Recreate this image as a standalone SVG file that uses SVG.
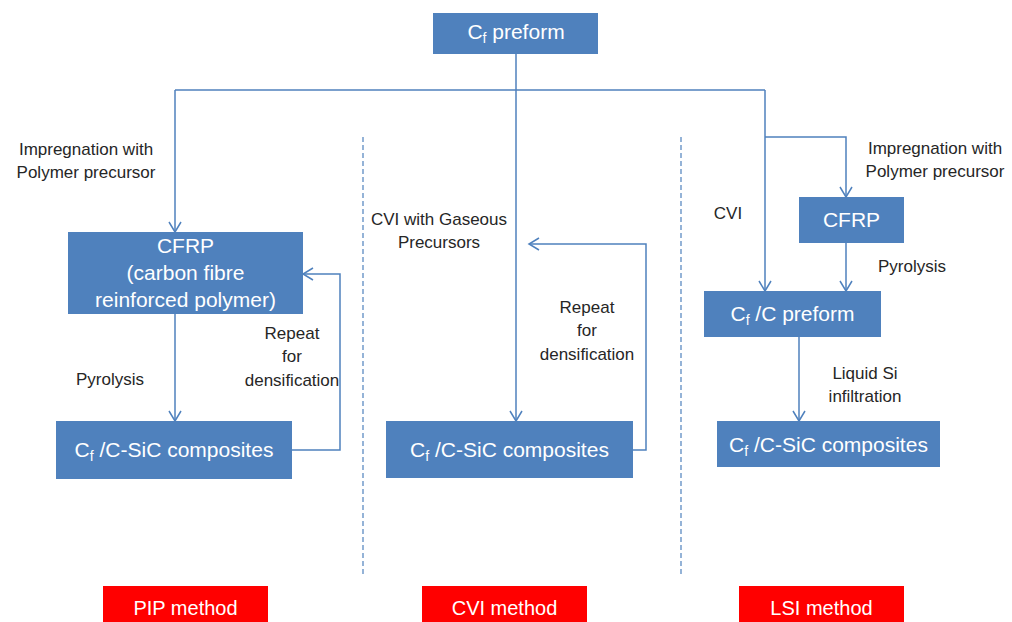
<svg xmlns="http://www.w3.org/2000/svg" width="1012" height="622" viewBox="0 0 1012 622">
<style>
.box{fill:#4f81bd}
.red{fill:#ff0000}
.bt{font-family:"Liberation Sans",Arial,sans-serif;font-size:21px;fill:#ffffff;text-anchor:middle}
.rt{font-family:"Liberation Sans",Arial,sans-serif;font-size:20px;fill:#ffffff;text-anchor:middle}
.lb{font-family:"Liberation Sans",Arial,sans-serif;font-size:17px;fill:#262626;text-anchor:middle}
.ln{fill:none;stroke:#4f81bd;stroke-width:1.5}
.dash{fill:none;stroke:#4f81bd;stroke-width:1.2;stroke-dasharray:5 3}
.sub{font-size:14px}
</style>
<defs>
<marker id="arr" markerUnits="userSpaceOnUse" markerWidth="14" markerHeight="14" refX="11" refY="6.5" orient="auto">
<path d="M1,0.5 L11,6.5 L1,12.5" fill="none" stroke="#4f81bd" stroke-width="1.5"/>
</marker>
</defs>
<rect width="1012" height="622" fill="#ffffff"/>

<g id="connectors">
<path class="ln" d="M516,54 V421" marker-end="url(#arr)"/>
<path class="ln" d="M175,90 H765"/>
<path class="ln" d="M175,90 V232" marker-end="url(#arr)"/>
<path class="ln" d="M765,90 V291" marker-end="url(#arr)"/>
<path class="ln" d="M765,137 H846 V197" marker-end="url(#arr)"/>
<path class="ln" d="M175,314 V421" marker-end="url(#arr)"/>
<path class="ln" d="M292,450 H340 V274 H303" marker-end="url(#arr)"/>
<path class="ln" d="M633,450 H646 V244 H529" marker-end="url(#arr)"/>
<path class="ln" d="M846,243 V291" marker-end="url(#arr)"/>
<path class="ln" d="M799,337 V421" marker-end="url(#arr)"/>
<path class="dash" d="M363,137 V576"/>
<path class="dash" d="M681,137 V576"/>
</g>

<g id="labels">
<text class="lb" x="86" y="155">Impregnation with</text>
<text class="lb" x="86" y="178">Polymer precursor</text>
<text class="lb" x="110" y="385">Pyrolysis</text>
<text class="lb" x="292" y="339">Repeat</text>
<text class="lb" x="292" y="362">for</text>
<text class="lb" x="292" y="386">densification</text>
<text class="lb" x="439" y="225">CVI with Gaseous</text>
<text class="lb" x="439" y="248">Precursors</text>
<text class="lb" x="587" y="313">Repeat</text>
<text class="lb" x="587" y="336">for</text>
<text class="lb" x="587" y="360">densification</text>
<text class="lb" x="728" y="219">CVI</text>
<text class="lb" x="935" y="154">Impregnation with</text>
<text class="lb" x="935" y="177">Polymer precursor</text>
<text class="lb" x="912" y="272">Pyrolysis</text>
<text class="lb" x="865" y="379">Liquid Si</text>
<text class="lb" x="865" y="402">infiltration</text>
</g>

<g id="cf-preform">
<rect class="box" x="433" y="13" width="165" height="41"/>
<text class="bt" x="516" y="39">C<tspan class="sub" dy="4">f</tspan><tspan dy="-4"> preform</tspan></text>
</g>

<g id="pip-cfrp">
<rect class="box" x="68" y="232" width="235" height="82"/>
<text class="bt" x="185.5" y="253">CFRP</text>
<text class="bt" x="185.5" y="280">(carbon fibre</text>
<text class="bt" x="185.5" y="307">reinforced polymer)</text>
</g>

<g id="pip-composites">
<rect class="box" x="56" y="421" width="236" height="58"/>
<text class="bt" x="174" y="457">C<tspan class="sub" dy="4">f</tspan><tspan dy="-4"> /C-SiC composites</tspan></text>
</g>

<g id="cvi-composites">
<rect class="box" x="386" y="421" width="247" height="57"/>
<text class="bt" x="509.5" y="457">C<tspan class="sub" dy="4">f</tspan><tspan dy="-4"> /C-SiC composites</tspan></text>
</g>

<g id="lsi-cfrp">
<rect class="box" x="799" y="197" width="105" height="46"/>
<text class="bt" x="851.5" y="227">CFRP</text>
</g>

<g id="lsi-cc-preform">
<rect class="box" x="704" y="291" width="177" height="46"/>
<text class="bt" x="792.5" y="321">C<tspan class="sub" dy="4">f</tspan><tspan dy="-4"> /C preform</tspan></text>
</g>

<g id="lsi-composites">
<rect class="box" x="717" y="421" width="223" height="46"/>
<text class="bt" x="828.5" y="452">C<tspan class="sub" dy="4">f</tspan><tspan dy="-4"> /C-SiC composites</tspan></text>
</g>

<g id="pip-method">
<rect class="red" x="103" y="586" width="165" height="40"/>
<text class="rt" x="185.5" y="615">PIP method</text>
</g>
<g id="cvi-method">
<rect class="red" x="422" y="586" width="165" height="40"/>
<text class="rt" x="504.5" y="615">CVI method</text>
</g>
<g id="lsi-method">
<rect class="red" x="739" y="586" width="165" height="40"/>
<text class="rt" x="821.5" y="615">LSI method</text>
</g>
</svg>
